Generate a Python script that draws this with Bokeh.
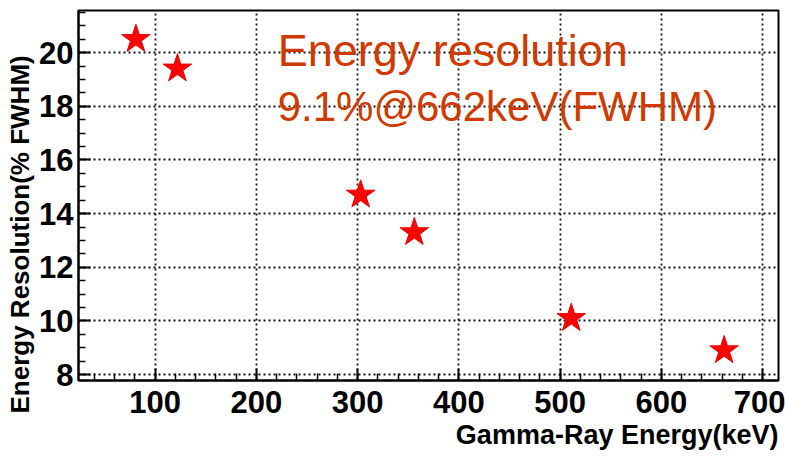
from bokeh.plotting import figure
from bokeh.models import Range1d, SingleIntervalTicker, Label, Title
from bokeh.embed import file_html
from bokeh.resources import INLINE

# Data
energy_kev = [81, 122, 303, 356, 511, 662]
resolution_pct = [20.5, 19.4, 14.7, 13.3, 10.1, 8.9]

x_label = "Gamma-Ray Energy(keV)"
y_label = "Energy Resolution(% FWHM)"
note_line1 = "Energy resolution"
note_line2 = "9.1%@662keV(FWHM)"

p = figure(width=785, height=459, output_backend="svg", toolbar_location=None,
           x_range=Range1d(24.3, 715.7), y_range=Range1d(7.78, 21.57),
           min_border_left=75, min_border_right=7, min_border_top=10, min_border_bottom=79)
p.background_fill_color = "white"
p.border_fill_color = "white"
p.outline_line_color = "black"
p.outline_line_width = 2

p.xaxis.ticker = SingleIntervalTicker(interval=100, num_minor_ticks=5)
p.yaxis.ticker = SingleIntervalTicker(interval=2, num_minor_ticks=4)

for ax in (p.xaxis, p.yaxis):
    ax.axis_line_color = "black"
    ax.axis_line_width = 2
    ax.major_tick_in = 12
    ax.major_tick_out = 0
    ax.minor_tick_in = 7
    ax.minor_tick_out = 0
    ax.major_tick_line_color = "black"
    ax.major_tick_line_width = 2
    ax.minor_tick_line_color = "black"
    ax.minor_tick_line_width = 1.5
    ax.major_label_text_font = "Liberation Sans"
    ax.major_label_text_font_style = "bold"
    ax.major_label_text_font_size = "31px"
    ax.major_label_text_color = "black"

p.xaxis.major_label_standoff = 10
p.yaxis.major_label_standoff = 5

x_title = Title(text=x_label, align="right", standoff=4,
                text_font="Liberation Sans", text_font_style="bold",
                text_font_size="27px", text_color="black")
p.add_layout(x_title, "below")

y_title = Title(text=y_label, align="left", offset=-33, standoff=4,
                text_font="Liberation Sans", text_font_style="bold",
                text_font_size="26px", text_color="black")
p.add_layout(y_title, "left")

for g in (p.xgrid, p.ygrid):
    g.grid_line_color = "#111111"
    g.grid_line_dash = "2 3"
    g.grid_line_width = 1.8
p.xgrid.ticker = p.xaxis.ticker
p.ygrid.ticker = p.yaxis.ticker

p.scatter(energy_kev, resolution_pct, marker="star", size=30,
          fill_color="#ff0000", line_color="#ee0000")

note_color = "#d03a00"
p.add_layout(Label(x=221, y=20.08, text=note_line1, text_color=note_color,
                   text_font="Liberation Sans", text_font_size="45px",
                   text_baseline="alphabetic"))
p.add_layout(Label(x=221, y=18.0, text=note_line2, text_color=note_color,
                   text_font="Liberation Sans", text_font_size="42px",
                   text_baseline="alphabetic"))

open("out.html", "w").write(file_html(p, INLINE))
